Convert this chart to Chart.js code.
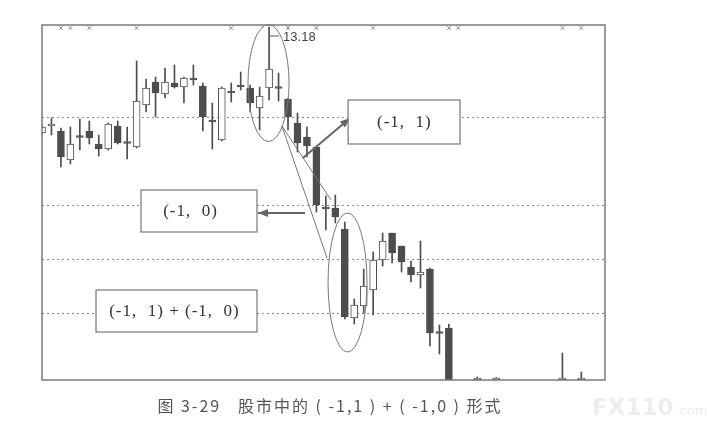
<!DOCTYPE html>
<html>
<head>
<meta charset="utf-8">
<script src="https://cdn.jsdelivr.net/npm/chart.js@4/dist/chart.umd.min.js"></script>
<style>
  html, body { margin: 0; padding: 0; background: #ffffff; }
  #wrap { width: 709px; height: 431px; position: relative; }
</style>
</head>
<body>
<div id="wrap"><canvas id="c" width="709" height="431"></canvas></div>
<script>
// ---- data ----
const categories = [0,1,2,3,4,5,6,7,8,9,10,11,12,13,14,15,16,17,18,19,20,21,22,23,24,25,26,27,28,29,30,31,32,33,34,35,36,37,38,39,40,41,42,43,44,45,46,47,48,49,50,51,52,53,54,55,56,57];
const opens  = [11.06,11.20,11.10,10.52,10.99,11.10,10.84,10.74,11.20,10.87,10.78,11.62,12.08,11.84,12.06,11.98,12.14,12.00,11.30,10.92,11.88,12.02,11.96,11.56,11.96,11.97,11.74,11.26,10.98,10.78,9.56,9.56,9.14,7.36,7.60,7.92,8.52,9.06,8.80,8.38,8.22,8.34,7.07,7.16,null,null,6.00,null,6.00,null,null,null,null,null,null,6.00,null,6.00];
const closes = [11.18,11.22,10.58,10.84,10.97,10.96,10.74,11.24,10.86,10.85,11.70,11.96,11.86,12.08,11.98,12.16,12.12,11.38,11.28,11.96,11.86,11.98,11.66,11.80,12.34,11.95,11.38,10.86,10.80,9.62,9.54,9.38,7.38,7.62,8.00,8.52,8.90,8.66,8.48,8.22,8.28,7.06,7.05,6.00,null,null,6.00,null,6.00,null,null,null,null,null,null,6.00,null,6.00];
const highs  = [11.22,11.36,11.16,11.18,11.34,11.30,11.02,11.26,11.30,11.18,12.50,12.14,12.18,12.36,12.42,12.18,12.42,12.06,11.66,11.98,12.06,12.28,12.02,11.98,13.18,12.26,11.76,11.46,11.18,10.78,9.80,9.82,9.28,7.74,8.34,8.68,9.06,9.06,8.80,8.50,8.90,8.36,7.22,7.24,null,null,6.18,null,6.17,null,null,null,null,null,null,6.66,null,6.28];
const lows   = [11.02,11.02,10.38,10.44,10.72,10.84,10.60,10.72,10.84,10.54,10.76,11.48,11.38,11.76,11.96,11.66,12.02,11.10,10.74,10.90,11.68,11.92,11.48,11.12,11.72,11.70,11.12,10.68,10.58,9.48,9.12,9.26,7.34,7.24,7.46,7.42,8.40,8.46,8.28,8.08,7.96,6.80,6.64,6.00,null,null,6.00,null,6.00,null,null,null,null,null,null,6.00,null,6.00];
const markerIdx = [2,3,5,10,20,26,29,35,43,44,55,57];
const markerLevel = 13.16;
const gridLevels = [7.46, 8.54, 9.62, 11.38];
const peakLabel = "13.18";
const boxLabels = ["(-1,  1)", "(-1,  0)", "(-1,  1) + (-1,  0)"];
const caption = "图 3-29   股市中的 ( -1,1 ) + ( -1,0 ) 形式";
const watermark = ["FX110", ".com"];

const DARK = '#4d4d4d';
const wickData = categories.map(i => highs[i] == null ? null : {x: i, y: [lows[i], highs[i]]}).filter(d => d);
const bodyData = categories.map(i => opens[i] == null ? null : {x: i, y: [opens[i], closes[i]]}).filter(d => d);
const bodyFill = bodyData.map(d => d.y[1] >= d.y[0] ? '#ffffff' : DARK);

const annotate = {
  id: 'annotate',
  afterDatasetsDraw(chart) {
    const ctx = chart.ctx, xs = chart.scales.x, ys = chart.scales.y, a = chart.chartArea;
    const X = v => xs.getPixelForValue(v), Y = v => ys.getPixelForValue(v);
    ctx.save();
    // frame
    ctx.strokeStyle = '#7a7a7a'; ctx.lineWidth = 1.5;
    ctx.strokeRect(a.left, a.top, a.right - a.left, a.bottom - a.top);
    ctx.strokeStyle = '#777'; ctx.lineWidth = 1;
    // ellipses
    const ell = (cx, cy, rx, ry) => { ctx.beginPath(); ctx.ellipse(X(cx), Y(cy), Math.abs(X(cx+rx)-X(cx)), Math.abs(Y(cy+ry)-Y(cy)), 0, 0, Math.PI*2); ctx.stroke(); };
    ell(23.94, 12.06, 2.17, 1.17);
    ell(32.29, 8.07, 2.06, 1.39);
    // wedge lines
    const line = (x1,y1,x2,y2) => { ctx.beginPath(); ctx.moveTo(X(x1),Y(y1)); ctx.lineTo(X(x2),Y(y2)); ctx.stroke(); };
    line(25.36, 11.20, 30.12, 8.56);
    line(25.36, 11.20, 30.54, 9.72);
    // arrows
    const arrow = (x1,y1,x2,y2) => {
      const px1=X(x1), py1=Y(y1), px2=X(x2), py2=Y(y2);
      ctx.strokeStyle = '#666'; ctx.lineWidth = 2;
      ctx.beginPath(); ctx.moveTo(px1,py1); ctx.lineTo(px2,py2); ctx.stroke();
      const ang = Math.atan2(py2-py1, px2-px1), L = 10, W = 4;
      ctx.fillStyle = '#666';
      ctx.beginPath(); ctx.moveTo(px2,py2);
      ctx.lineTo(px2 - L*Math.cos(ang) + W*Math.sin(ang), py2 - L*Math.sin(ang) - W*Math.cos(ang));
      ctx.lineTo(px2 - L*Math.cos(ang) - W*Math.sin(ang), py2 - L*Math.sin(ang) + W*Math.cos(ang));
      ctx.closePath(); ctx.fill();
      ctx.strokeStyle = '#777'; ctx.lineWidth = 1;
    };
    arrow(27.58, 10.56, 32.56, 11.36);
    arrow(27.8, 9.46, 22.83, 9.46);
    // boxes
    const box = (x1,y1,x2,y2,t,tx) => {
      ctx.fillStyle = '#fff';
      const l=X(x1), tp=Y(y1), w=X(x2)-X(x1), h=Y(y2)-Y(y1);
      ctx.fillRect(l,tp,w,h);
      ctx.strokeStyle = '#777'; ctx.lineWidth = 1.2; ctx.strokeRect(l,tp,w,h);
      ctx.fillStyle = '#333'; ctx.font = '17px "Liberation Serif", "DejaVu Serif", serif';
      ctx.letterSpacing = '1px';
      ctx.textAlign = 'center'; ctx.textBaseline = 'middle';
      ctx.fillText(t, X(tx), tp + h/2 + 1);
      ctx.letterSpacing = '0px';
    };
    box(32.35, 11.72, 44.18, 10.84, boxLabels[0], 38.3);
    box(10.46, 9.92, 22.72, 9.08, boxLabels[1], 15.7);
    box(5.71, 7.92, 22.72, 7.08, boxLabels[2], 14.0);
    // peak label
    const pk = categories[highs.indexOf(Math.max(...highs.filter(v => v != null)))];
    ctx.strokeStyle = '#555'; ctx.lineWidth = 1;
    ctx.beginPath(); ctx.moveTo(X(pk)+1, Y(13.0)); ctx.lineTo(X(pk)+10, Y(13.0)); ctx.stroke();
    ctx.fillStyle = '#444'; ctx.font = '13px "Liberation Sans", Arial, sans-serif';
    ctx.textAlign = 'left'; ctx.textBaseline = 'middle';
    ctx.fillText(peakLabel, X(pk)+14, Y(12.98));
    // caption
    ctx.fillStyle = '#555'; ctx.font = '16px "Noto Sans CJK SC", sans-serif';
    ctx.letterSpacing = '2px';
    ctx.textAlign = 'center'; ctx.textBaseline = 'middle';
    ctx.fillText(caption, 330, 406);
    ctx.letterSpacing = '0px';
    // watermark
    ctx.fillStyle = '#ededed'; ctx.textAlign = 'left';
    ctx.font = 'bold 23px "DejaVu Sans", sans-serif';
    ctx.fillText(watermark[0], 592, 409);
    const w0 = ctx.measureText(watermark[0]).width;
    ctx.font = '13px "DejaVu Sans", sans-serif';
    ctx.fillText(watermark[1], 592 + w0 + 2, 412);
    ctx.restore();
  }
};

new Chart(document.getElementById('c'), {
  type: 'bar',
  data: {
    datasets: [
      { label: 'wick', data: wickData, backgroundColor: DARK, barThickness: 1, grouped: false, order: 2, clip: 0 },
      { label: 'body', data: bodyData, backgroundColor: bodyFill, borderColor: DARK, borderWidth: 1, borderSkipped: false,
        barThickness: 7, grouped: false, order: 1, minBarLength: 2, clip: 0 },
      { type: 'scatter', label: 'mark', data: markerIdx.map(i => ({x: i, y: markerLevel})), pointStyle: 'crossRot',
        radius: 2.5, borderColor: '#888', borderWidth: 1, order: 0 }
    ]
  },
  options: {
    responsive: false, animation: false,
    layout: { padding: { left: 42, top: 25, right: 104, bottom: 51 } },
    plugins: { legend: { display: false }, tooltip: { enabled: false } },
    scales: {
      x: { type: 'linear', min: 0, max: 59.5, display: false, offset: false },
      y: { type: 'linear', min: 6.12, max: 13.22,
           afterBuildTicks: s => { s.ticks = gridLevels.map(v => ({value: v})); },
           ticks: { display: false },
           border: { display: false, dash: [2, 3] },
           grid: { color: '#8a8a8a', lineWidth: 1, drawTicks: false } }
    }
  },
  plugins: [annotate]
});
</script>
</body>
</html>
